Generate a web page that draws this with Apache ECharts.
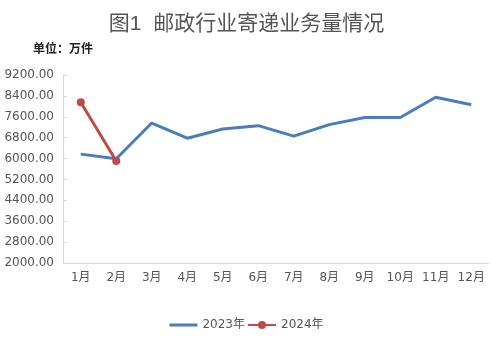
<!DOCTYPE html>
<html>
<head>
<meta charset="utf-8">
<script src="https://cdn.jsdelivr.net/npm/echarts@6/dist/echarts.min.js"></script>
<style>html,body{margin:0;padding:0;background:#fff}#c{width:493px;height:345px}</style>
</head>
<body>
<div id="c"></div>
<script>
var categories = ['1月','2月','3月','4月','5月','6月','7月','8月','9月','10月','11月','12月'];
var seriesNames = ['2023年','2024年'];
var values2023 = [6170, 5990, 7360, 6780, 7130, 7260, 6860, 7300, 7570, 7570, 8350, 8060];
var values2024 = [8160, 5910];
var yMin = 2000, yMax = 9200, yStep = 800;

var chart = echarts.init(document.getElementById('c'), null, {renderer: 'canvas'});
var font = '"DejaVu Sans", "Noto Sans CJK SC", sans-serif';
chart.setOption({
  animation: false,
  backgroundColor: '#fff',
  title: [{
    text: '图1  邮政行业寄递业务量情况',
    left: 'center', top: 9,
    textStyle: {fontFamily: '"Liberation Sans", "Noto Sans CJK SC", sans-serif', fontSize: 21, fontWeight: 'normal', color: '#555'}
  }, {
    text: '单位：万件',
    left: 28, top: 37,
    textStyle: {fontFamily: '"Noto Sans CJK SC", sans-serif', fontSize: 12, fontWeight: 'bold', color: '#222'}
  }],
  grid: {left: 63, right: 4, top: 75, bottom: 82, containLabel: false},
  legend: {
    bottom: 9, left: 'center', itemGap: 2, itemWidth: 28, itemHeight: 10,
    textStyle: {fontFamily: font, fontSize: 12, color: '#555'},
    data: [
      {name: seriesNames[0], icon: 'path://M0,0M0,10M0,3.5L28,3.5L28,6.5L0,6.5Z'},
      {name: seriesNames[1]}
    ]
  },
  xAxis: {
    type: 'category', data: categories, boundaryGap: true,
    axisLine: {lineStyle: {color: '#d9d9d9', width: 1}},
    axisTick: {inside: true, length: 4, lineStyle: {color: '#d9d9d9'}},
    axisLabel: {fontFamily: font, fontSize: 12, color: '#555', margin: 9, interval: 0}
  },
  yAxis: {
    type: 'value', min: yMin, max: yMax, interval: yStep,
    axisLine: {show: true, lineStyle: {color: '#d9d9d9', width: 1}},
    axisTick: {show: true, inside: true, length: 4, lineStyle: {color: '#d9d9d9'}},
    splitLine: {show: false},
    axisLabel: {fontFamily: font, fontSize: 12, color: '#555', margin: 9,
      formatter: function (v) { return v.toFixed(2); }}
  },
  series: [{
    name: seriesNames[0], type: 'line', data: values2023,
    symbol: 'none', showSymbol: false,
    lineStyle: {color: '#4a7ebb', width: 3},
    itemStyle: {color: '#4a7ebb'}
  }, {
    name: seriesNames[1], type: 'line', data: values2024,
    symbol: 'circle', symbolSize: 8, showSymbol: true,
    lineStyle: {color: '#be4b48', width: 3},
    itemStyle: {color: '#be4b48'},
    z: 3
  }]
});
</script>
</body>
</html>
